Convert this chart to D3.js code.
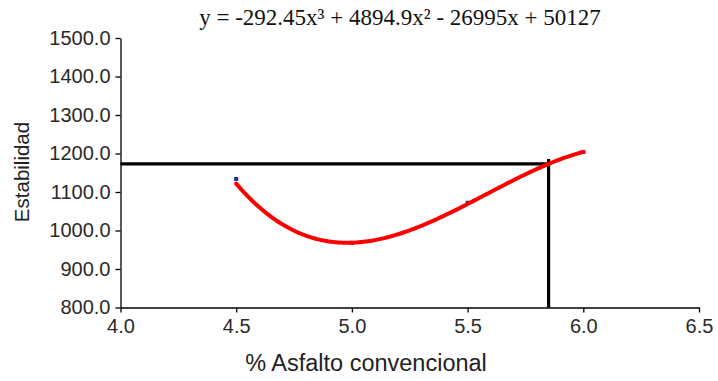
<!DOCTYPE html>
<html>
<head>
<meta charset="utf-8">
<script src="https://cdn.jsdelivr.net/npm/d3@7"></script>
<style>
  body { margin: 0; background: #ffffff; }
  svg { display: block; }
</style>
</head>
<body>
<svg id="chart" width="718" height="381"></svg>
<script>
// Measured stability for each asphalt content
const asphaltPct = [4.5, 5.0, 5.5, 6.0];
const stability = [1134, 968, 1072, 1204];

// Cubic trend coefficients (x^3, x^2, x, constant), as printed in the title
const trendCoef = [-292.45, 4894.9, -26995, 50127];
const trendRange = [4.5, 6.0];

// Optimum asphalt content and its stability read from the trend
const optimumPct = 5.85;
const optimumStab = 1173;

const xTicks = [4.0, 4.5, 5.0, 5.5, 6.0, 6.5];
const yTicks = [800, 900, 1000, 1100, 1200, 1300, 1400, 1500];

const titleText = "y = -292.45x\u00B3 + 4894.9x\u00B2 - 26995x + 50127";
const xLabel = "% Asfalto convencional";
const yLabel = "Estabilidad";

const svg = d3.select("#chart");

const x = d3.scaleLinear().domain([4.0, 6.5]).range([120.5, 699]);
const y = d3.scaleLinear().domain([800, 1500]).range([307.5, 38]);

const sansFont = "'Liberation Sans', Arial, sans-serif";
const serifFont = "'Liberation Serif', 'Times New Roman', serif";

// Axes
const yAxis = d3.axisLeft(y)
  .tickValues(yTicks)
  .tickFormat(d3.format(".1f"))
  .tickSizeInner(5)
  .tickSizeOuter(0)
  .tickPadding(5);

const xAxis = d3.axisBottom(x)
  .tickValues(xTicks)
  .tickFormat(d3.format(".1f"))
  .tickSizeInner(5)
  .tickSizeOuter(0)
  .tickPadding(6);

const gy = svg.append("g")
  .attr("transform", `translate(${x.range()[0]},0)`)
  .call(yAxis);

const gx = svg.append("g")
  .attr("transform", `translate(0,${y.range()[0]})`)
  .call(xAxis);

[gx, gy].forEach(g => {
  g.select(".domain").attr("stroke", "#000").attr("stroke-width", 1.3);
  g.selectAll(".tick line").attr("stroke", "#000").attr("stroke-width", 1.3);
  g.selectAll(".tick text")
    .attr("fill", "#2a2a2a")
    .style("font-family", sansFont)
    .style("font-size", "20px");
});

// Measured points (the trend line passes over them)
svg.append("g")
  .selectAll("rect")
  .data(asphaltPct)
  .join("rect")
  .attr("x", (d) => x(d) - 2)
  .attr("y", (d, i) => y(stability[i]) - 2)
  .attr("width", 4)
  .attr("height", 4)
  .attr("fill", "#2626a8");

// Optimum guide lines
svg.append("line")
  .attr("x1", x(4.0)).attr("x2", x(optimumPct))
  .attr("y1", y(optimumStab)).attr("y2", y(optimumStab))
  .attr("stroke", "#000").attr("stroke-width", 3.2);

svg.append("line")
  .attr("x1", x(optimumPct)).attr("x2", x(optimumPct))
  .attr("y1", y(optimumStab) - 5).attr("y2", y(800))
  .attr("stroke", "#000").attr("stroke-width", 3.2);

// Cubic trend line
const poly = v => trendCoef[0] * v * v * v + trendCoef[1] * v * v + trendCoef[2] * v + trendCoef[3];
const trendX = d3.range(trendRange[0], trendRange[1] + 1e-9, 0.01);

svg.append("path")
  .datum(trendX)
  .attr("fill", "none")
  .attr("stroke", "#ff0000")
  .attr("stroke-width", 4)
  .attr("stroke-linecap", "round")
  .attr("d", d3.line().x(d => x(d)).y(d => y(poly(d))));

// Title with the trend equation
svg.append("text")
  .attr("x", 400)
  .attr("y", 25)
  .attr("text-anchor", "middle")
  .style("font-family", serifFont)
  .style("font-size", "23px")
  .attr("fill", "#111")
  .text(titleText);

// Axis titles
svg.append("text")
  .attr("x", 366)
  .attr("y", 371)
  .attr("text-anchor", "middle")
  .style("font-family", sansFont)
  .style("font-size", "23.5px")
  .attr("fill", "#222")
  .text(xLabel);

svg.append("text")
  .attr("transform", "translate(29,172) rotate(-90)")
  .attr("text-anchor", "middle")
  .style("font-family", sansFont)
  .style("font-size", "20.5px")
  .attr("fill", "#222")
  .text(yLabel);
</script>
</body>
</html>
